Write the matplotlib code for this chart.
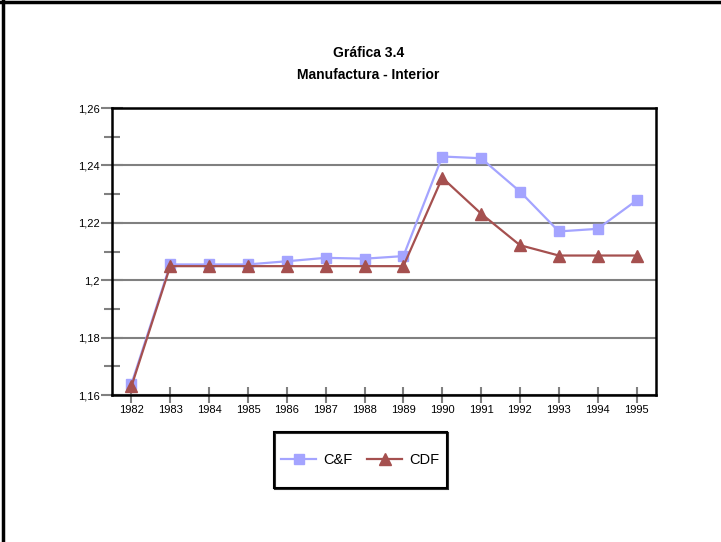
import matplotlib.pyplot as plt
from matplotlib.lines import Line2D
from matplotlib.patches import Rectangle
from matplotlib.ticker import MultipleLocator, FuncFormatter

# --- data ---
years = ["1982", "1983", "1984", "1985", "1986", "1987", "1988",
         "1989", "1990", "1991", "1992", "1993", "1994", "1995"]
cyf = [1.1638, 1.2055, 1.2055, 1.2055, 1.2066, 1.2078, 1.2075,
       1.2084, 1.2431, 1.2425, 1.2309, 1.2170, 1.2179, 1.2278]
cdf = [1.1630, 1.2049, 1.2049, 1.2049, 1.2049, 1.2049, 1.2049,
       1.2049, 1.2357, 1.2232, 1.2122, 1.2086, 1.2086, 1.2086]

# --- style ---
plt.rcParams['font.family'] = ['Liberation Sans', 'DejaVu Sans']
BLUE = "#A4A4FF"
RED = "#A5504F"
GRID = "#808080"

W, H = 721, 542
fig = plt.figure(figsize=(W / 100, H / 100), dpi=100)
ax = fig.add_axes([0.1553, 0.2712, 0.7545, 0.5295])

x = range(len(years))
ax.plot(x, cyf, color=BLUE, lw=1.6, marker="s", ms=7.5, label="C&F", zorder=3)
ax.plot(x, cdf, color=RED, lw=1.6, marker="^", ms=8, label="CDF", zorder=4)

ax.set_xlim(-0.5, len(years) - 0.5)
ax.set_ylim(1.16, 1.26)
ax.set_xticks(list(x))
ax.set_xticklabels(years)
ax.yaxis.set_major_locator(MultipleLocator(0.02))
ax.yaxis.set_minor_locator(MultipleLocator(0.01))
ax.yaxis.set_major_formatter(FuncFormatter(
    lambda v, p: f"{v:.2f}".rstrip("0").replace(".", ",")))

ax.grid(axis="y", color=GRID, lw=1.5, zorder=1)
ax.set_axisbelow(True)
for s in ax.spines.values():
    s.set_color("black")
    s.set_linewidth(1.8)
    s.set_zorder(5)

ax.tick_params(axis="both", which="both", direction="inout", color=GRID,
               width=1.5, labelsize=8, labelcolor="black")
ax.tick_params(axis="y", which="major", length=16, pad=1)
ax.tick_params(axis="y", which="minor", length=12)
ax.tick_params(axis="x", which="major", length=11, pad=2)

# --- titles ---
fig.text(0.511, 0.903, "Gráfica 3.4", ha="center", va="center",
         fontsize=10, fontweight="bold")
fig.text(0.511, 0.861, "Manufactura - Interior", ha="center", va="center",
         fontsize=10, fontweight="bold")

# --- legend: entries without frame, box drawn separately ---
bx0, bx1, by0, by1 = 274, 447, 432, 488
leg = fig.legend(*ax.get_legend_handles_labels(), loc="center",
                 bbox_to_anchor=((bx0 + bx1) / 2 / W, 1 - (by0 + by1) / 2 / H),
                 ncol=2, frameon=False, fontsize=10.5,
                 handlelength=2.4, handletextpad=0.5, columnspacing=1.0,
                 borderpad=0)
# slight shadow then frame
fig.add_artist(Rectangle(((bx0 + 1) / W, 1 - (by1 + 1) / H),
                         (bx1 - bx0) / W, (by1 - by0) / H,
                         transform=fig.transFigure, fc="none",
                         ec="#303030", lw=1.5))
fig.add_artist(Rectangle((bx0 / W, 1 - by1 / H),
                         (bx1 - bx0) / W, (by1 - by0) / H,
                         transform=fig.transFigure, fc="none",
                         ec="black", lw=1.5))

# --- figure border (left and top) ---
fig.add_artist(Line2D([0.004, 0.004], [0, 1], color="black", lw=2.5))
fig.add_artist(Line2D([0, 1], [0.996, 0.996], color="black", lw=2.5))

fig.savefig("out.png", dpi=100)
